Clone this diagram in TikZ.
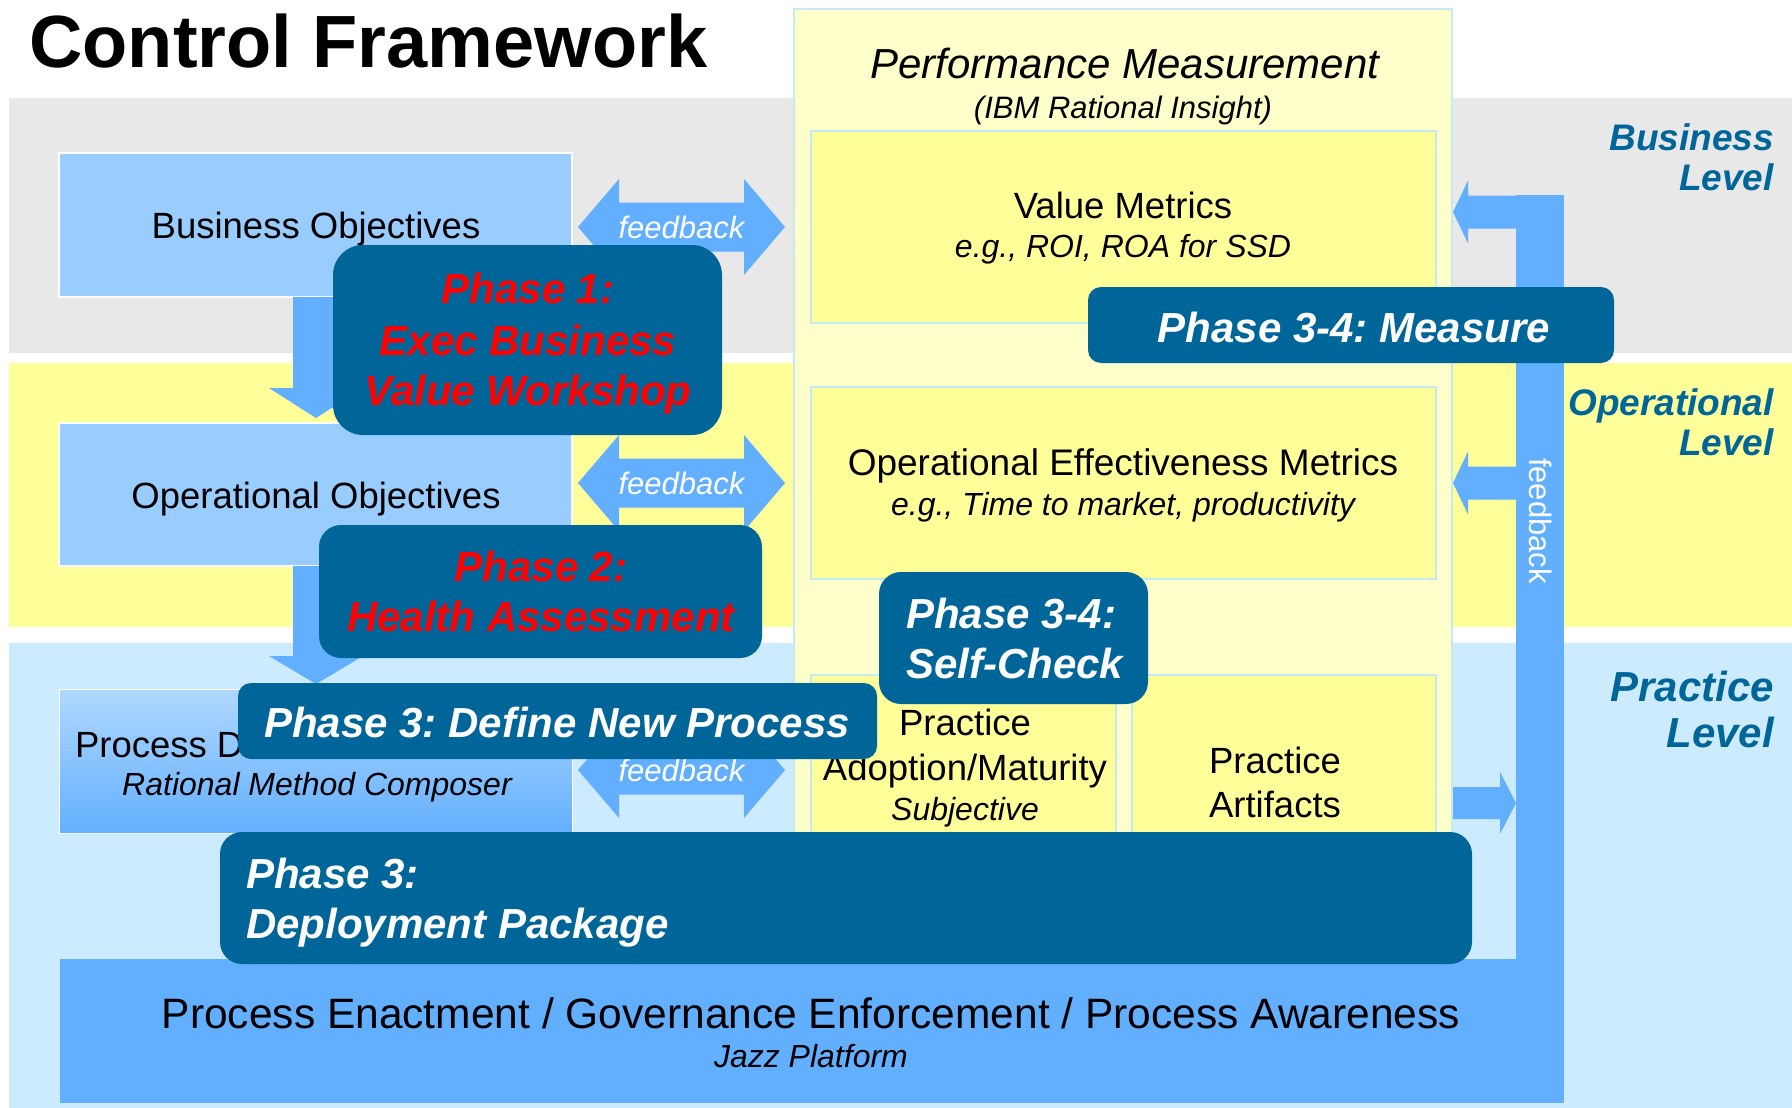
\documentclass[tikz,border=0pt]{standalone}
\usepackage{fontspec}
\setmainfont{Liberation Sans}
\frenchspacing
\definecolor{bandgray}{HTML}{E8E8E8}
\definecolor{bandyellow}{HTML}{FFFF99}
\definecolor{bandblue}{HTML}{CCEBFF}
\definecolor{objblue}{HTML}{99CCFF}
\definecolor{arrowblue}{HTML}{63AFFF}
\definecolor{phaseblue}{HTML}{006699}
\definecolor{panelyellow}{HTML}{FFFFCC}
\definecolor{metyellow}{HTML}{FFFF99}
\definecolor{metborder}{HTML}{C4EAF2}
\definecolor{procTop}{HTML}{B0D8FF}
\newcommand{\myfs}[1]{\fontsize{#1}{#1}\selectfont}
\tikzset{
  box/.style={anchor=north west, inner sep=0pt, outer sep=0pt},
  objbox/.style={box, draw=white, line width=1.5pt, fill=objblue},
  metbox/.style={box, draw=metborder, line width=1.5pt, fill=metyellow},
  phasebox/.style={box, fill=phaseblue, draw=none},
  txt/.style={inner sep=0pt, outer sep=0pt, anchor=base},
  reg/.style={txt, font=\myfs{36.5}},
  sub/.style={txt, font=\myfs{32}\itshape},
  redtxt/.style={txt, text=red, font=\myfs{42}\bfseries\itshape},
  whitetxt/.style={txt, text=white, font=\myfs{42}\bfseries\itshape},
  lvl/.style={inner sep=0pt, anchor=base east, text=phaseblue, font=\myfs{37}\bfseries\itshape},
  lvlbig/.style={lvl, font=\myfs{42}\bfseries\itshape},
  fbtxt/.style={txt, text=white, font=\myfs{31}\itshape},
}
\newcommand{\fbarrow}[2]{%
  \fill[arrowblue] (578,#1) -- (619,{#1-48}) -- (619,{#1-24.5}) -- (744,{#1-24.5}) -- (744,{#1-48}) -- (785,#1)
     -- (744,{#1+48}) -- (744,{#1+24.5}) -- (619,{#1+24.5}) -- (619,{#1+48}) -- cycle;
  \node[fbtxt] (#2) at (681.5,{#1+11}) {feedback};
}
\newcommand{\dnarrow}[3]{%
  \fill[arrowblue] (293,#1) -- (339,#1) -- (339,#2) -- (363,#2) -- (316,#3) -- (269,#2) -- (293,#2) -- cycle;
}
\newcommand{\lfarrow}[1]{%
  \fill[arrowblue] (1453,#1) -- (1468,{#1-31.5}) -- (1468,{#1-16.5}) -- (1517,{#1-16.5}) -- (1517,{#1+16.5})
     -- (1468,{#1+16.5}) -- (1468,{#1+31.5}) -- cycle;
}
\begin{document}
\begin{tikzpicture}[x=1pt,y=-1pt]
\useasboundingbox (0,0) rectangle (1792,1108);
\fill[white] (0,0) rectangle (1792,1108);
% title
\node[inner sep=0pt, anchor=base west, font=\myfs{74}\bfseries] (title) at (29,67) {Control Framework};
% bands
\fill[bandgray] (9,98) rectangle (1792,353);
\fill[bandyellow] (9,363) rectangle (1792,627);
\fill[bandblue] (9,643) rectangle (1792,1108);
% performance panel
\node[box, draw=metborder, line width=1.5pt, fill=panelyellow, minimum width=658pt, minimum height=900pt] (panel) at (794,9) {};
\node[txt, font=\myfs{42}\itshape] (pm) at (1125,78) {Performance Measurement};
\node[sub, font=\myfs{31}\itshape] (pmsub) at (1123,118) {(IBM Rational Insight)};
% metric boxes
\node[metbox, minimum width=625pt, minimum height=192pt] (vm) at (811,131) {};
\node[reg] (vmt) at (1123,218) {Value Metrics};
\node[sub] (vms) at (1123,257) {e.g., ROI, ROA for SSD};
\node[metbox, minimum width=625pt, minimum height=192pt] (oem) at (811,387) {};
\node[reg, font=\myfs{37}] (oemt) at (1123,475) {Operational Effectiveness Metrics};
\node[sub] (oems) at (1123,515) {e.g., Time to market, productivity};
\node[metbox, minimum width=305pt, minimum height=225pt] (pam) at (811,675) {};
\node[reg] (pam1) at (965,735) {Practice};
\node[reg] (pam2) at (965,780) {Adoption/Maturity};
\node[sub] (pam3) at (965,820) {Subjective};
\node[metbox, minimum width=304pt, minimum height=225pt] (pa) at (1132,675) {};
\node[reg] (pa1) at (1275,773) {Practice};
\node[reg] (pa2) at (1275,817) {Artifacts};
% objective boxes
\node[objbox, minimum width=513pt, minimum height=144pt] (bo) at (59,153) {};
\node[reg] (bot) at (316,238) {Business Objectives};
\node[objbox, minimum width=513pt, minimum height=143pt] (oo) at (59,423) {};
\node[reg] (oot) at (316,508) {Operational Objectives};
\node[box, draw=white, line width=1pt, top color=procTop, bottom color=arrowblue, minimum width=513pt, minimum height=144pt] (pd) at (59,689) {};
\node[reg, anchor=base west] (pdt) at (75,757) {Process D};
\node[sub] (pds) at (317,795) {Rational Method Composer};
% feedback double arrows
\fbarrow{227}{fb1}
\fbarrow{483}{fb2}
\fbarrow{770}{fb3}
% down arrows
\dnarrow{297}{388}{418}
\dnarrow{566}{656}{684}
% right-hand feedback loop
\fill[arrowblue] (1516,195) rectangle (1564,1103);
\lfarrow{212}
\lfarrow{483}
\fill[arrowblue] (1453,787) -- (1500,787) -- (1500,772) -- (1516,803) -- (1500,834) -- (1500,819) -- (1453,819) -- cycle;
\node[box, fill=arrowblue, minimum width=1504pt, minimum height=144pt] (pe) at (60,959) {};
\node[txt, font=\myfs{42.5}] (pet) at (811,1028) {Process Enactment / Governance Enforcement / Process Awareness};
\node[sub] (pes) at (811,1067) {Jazz Platform};
\node[inner sep=0pt, rotate=-90, text=white, font=\myfs{31}] (fbv) at (1541,521) {feedback};
% level labels
\node[lvl] (bl1) at (1774,150) {Business};
\node[lvl] (bl2) at (1774,190) {Level};
\node[lvl] (ol1) at (1774,415) {Operational};
\node[lvl] (ol2) at (1774,455) {Level};
\node[lvlbig] (pl1) at (1774,701) {Practice};
\node[lvlbig] (pl2) at (1774,747) {Level};
% phase boxes
\node[phasebox, rounded corners=30pt, minimum width=389pt, minimum height=190pt] (ph1) at (333,245) {};
\node[redtxt] (ph1a) at (528,303) {Phase 1:};
\node[redtxt] (ph1b) at (528,355) {Exec Business};
\node[redtxt] (ph1c) at (528,405) {Value Workshop};
\node[phasebox, rounded corners=13pt, minimum width=526pt, minimum height=76pt] (ph34m) at (1088,287) {};
\node[whitetxt] (ph34mt) at (1354,342) {Phase 3-4: Measure};
\node[phasebox, rounded corners=22pt, minimum width=443pt, minimum height=133pt] (ph2) at (319,525) {};
\node[redtxt] (ph2a) at (541,581) {Phase 2:};
\node[redtxt] (ph2b) at (541,631) {Health Assessment};
\node[phasebox, rounded corners=22pt, minimum width=269pt, minimum height=132pt] (ph34s) at (879,572) {};
\node[whitetxt, anchor=base west] (ph34sa) at (906,628) {Phase 3-4:};
\node[whitetxt, anchor=base west] (ph34sb) at (906,678) {Self-Check};
\node[phasebox, rounded corners=13pt, minimum width=639pt, minimum height=76pt] (ph3d) at (238,683) {};
\node[whitetxt] (ph3dt) at (557,737) {Phase 3: Define New Process};
\node[phasebox, rounded corners=22pt, minimum width=1252pt, minimum height=132pt] (ph3p) at (220,832) {};
\node[whitetxt, anchor=base west] (ph3pa) at (246,888) {Phase 3:};
\node[whitetxt, anchor=base west] (ph3pb) at (246,938) {Deployment Package};
\end{tikzpicture}
\end{document}
